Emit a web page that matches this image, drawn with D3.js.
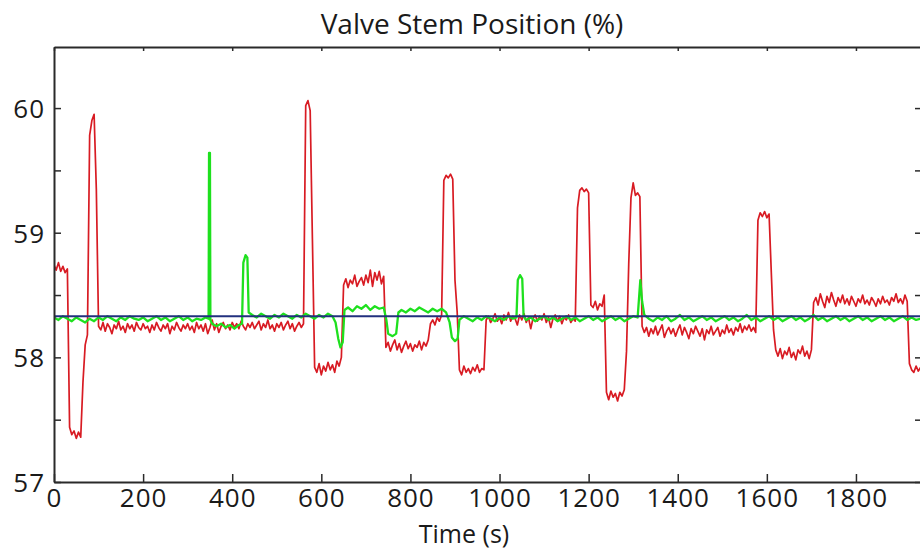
<!DOCTYPE html>
<html>
<head>
<meta charset="utf-8">
<script src="https://cdn.jsdelivr.net/npm/d3@7"></script>
<style>
  body { margin: 0; background: #fff; }
  svg text { font-family: "Open Sans", "Noto Sans", sans-serif; fill: #1a1a1a; }
</style>
</head>
<body>
<div id="chart"></div>
<script>
// red: stem position, sampled every 5 s starting at t = 0
var redStep = 5;
var redV = [
  58.74, 58.70, 58.76, 58.69, 58.73, 58.68, 58.71, 57.44, 57.38, 57.41,
  57.35, 57.40, 57.36, 57.80, 58.10, 58.18, 59.78, 59.90, 59.95, 59.35,
  58.25, 58.22, 58.28, 58.21, 58.27, 58.24, 58.19, 58.26, 58.23, 58.29,
  58.22, 58.25, 58.20, 58.27, 58.23, 58.26, 58.21, 58.28, 58.24, 58.22,
  58.27, 58.23, 58.25, 58.20, 58.26, 58.22, 58.28, 58.24, 58.21, 58.26,
  58.23, 58.27, 58.19, 58.25, 58.22, 58.28, 58.24, 58.21, 58.26, 58.23,
  58.27, 58.22, 58.25, 58.20, 58.28, 58.23, 58.26, 58.21, 58.27, 58.19,
  58.24, 58.30, 58.22, 58.27, 58.20, 58.25, 58.28, 58.23, 58.26, 58.22,
  58.28, 58.24, 58.27, 58.23, 58.29, 58.25, 58.22, 58.27, 58.24, 58.28,
  58.23, 58.26, 58.29, 58.22, 58.27, 58.24, 58.30, 58.23, 58.26, 58.21,
  58.27, 58.24, 58.28, 58.22, 58.26, 58.29, 58.23, 58.27, 58.21, 58.25,
  58.28, 58.24, 58.27, 60.02, 60.06, 59.98, 58.95, 57.92, 57.88, 57.95,
  57.86, 57.93, 57.89, 57.96, 57.90, 57.94, 57.88, 57.97, 57.93, 58.00,
  58.58, 58.63, 58.56, 58.62, 58.59, 58.66, 58.57, 58.61, 58.64, 58.58,
  58.66, 58.60, 58.70, 58.57, 58.68, 58.62, 58.69, 58.59, 58.65, 58.08,
  58.12, 58.05, 58.10, 58.14, 58.06, 58.11, 58.04, 58.09, 58.13, 58.07,
  58.11, 58.05, 58.10, 58.08, 58.13, 58.06, 58.12, 58.09, 58.14, 58.27,
  58.30, 58.26, 58.32, 58.29, 58.34, 59.42, 59.46, 59.44, 59.47, 59.43,
  58.62, 58.36, 57.90, 57.86, 57.93, 57.88, 57.91, 57.87, 57.92, 57.89,
  57.94, 57.88, 57.91, 57.90, 58.30, 58.33, 58.28, 58.31, 58.35, 58.29,
  58.32, 58.27, 58.34, 58.30, 58.36, 58.29, 58.33, 58.31, 58.26, 58.34,
  58.30, 58.35, 58.28, 58.32, 58.23, 58.31, 58.34, 58.29, 58.33, 58.30,
  58.35, 58.28, 58.32, 58.24, 58.31, 58.34, 58.29, 58.33, 58.27, 58.32,
  58.30, 58.34, 58.28, 58.31, 58.29, 59.20, 59.34, 59.36, 59.33, 59.35,
  59.32, 58.42, 58.40, 58.45, 58.38, 58.43, 58.41, 58.50, 57.72, 57.66,
  57.73, 57.68, 57.71, 57.65, 57.72, 57.69, 57.74, 58.05, 58.75, 59.28,
  59.40, 59.30, 59.32, 59.29, 58.25, 58.20, 58.24, 58.17, 58.23, 58.19,
  58.25, 58.18, 58.22, 58.26, 58.16, 58.21, 58.24, 58.19, 58.23, 58.17,
  58.22, 58.26, 58.18, 58.24, 58.20, 58.15, 58.23, 58.19, 58.25, 58.21,
  58.17, 58.23, 58.14, 58.22, 58.19, 58.25, 58.18, 58.21, 58.24, 58.17,
  58.22, 58.19, 58.26, 58.20, 58.23, 58.18, 58.24, 58.21, 58.27, 58.20,
  58.25, 58.22, 58.26, 58.21, 58.24, 58.20, 59.10, 59.16, 59.13, 59.17,
  59.12, 59.15, 58.68, 58.22, 58.06, 58.01, 58.07, 57.99, 58.05, 58.02,
  58.08, 58.00, 58.04, 57.98, 58.06, 58.03, 58.09, 58.01, 58.05, 57.99,
  58.06, 58.44, 58.48, 58.42, 58.51, 58.45, 58.40, 58.49, 58.44, 58.52,
  58.46, 58.41, 58.48, 58.44, 58.50, 58.43, 58.47, 58.42, 58.49, 58.45,
  58.41, 58.47, 58.44, 58.50, 58.43, 58.46, 58.42, 58.48, 58.45, 58.41,
  58.47, 58.43, 58.49, 58.44, 58.46, 58.42, 58.48, 58.45, 58.51, 58.44,
  58.47, 58.43, 58.50, 58.45, 57.95, 57.90, 57.88, 57.93, 57.89, 57.92
];

// green: irregular sample times
var greenT = [
  0, 10, 20, 30, 40, 50, 60, 70, 80, 90,
  100, 110, 120, 130, 140, 150, 160, 170, 180, 190,
  200, 210, 220, 230, 240, 250, 260, 270, 280, 290,
  300, 310, 320, 330, 340, 347, 348, 350, 351, 355,
  365, 375, 385, 395, 405, 415, 422, 425, 430, 434,
  437, 445, 455, 465, 475, 485, 495, 505, 515, 525,
  535, 545, 555, 565, 575, 585, 595, 605, 615, 625,
  632, 638, 643, 648, 652, 660, 670, 680, 690, 700,
  710, 720, 730, 740, 746, 750, 760, 768, 773, 780,
  790, 800, 810, 820, 830, 840, 850, 860, 870, 880,
  888, 893, 900, 906, 910, 920, 930, 940, 950, 960,
  970, 980, 990, 1000, 1010, 1020, 1030, 1038, 1041, 1046,
  1051, 1054, 1060, 1070, 1080, 1090, 1100, 1110, 1120, 1130,
  1140, 1150, 1160, 1170, 1180, 1190, 1200, 1210, 1220, 1230,
  1240, 1250, 1260, 1270, 1280, 1290, 1300, 1310, 1316, 1320,
  1325, 1335, 1345, 1355, 1365, 1375, 1385, 1395, 1405, 1415,
  1425, 1435, 1445, 1455, 1465, 1475, 1485, 1495, 1505, 1515,
  1525, 1535, 1545, 1555, 1565, 1575, 1585, 1595, 1605, 1615,
  1625, 1635, 1645, 1655, 1665, 1675, 1685, 1695, 1705, 1715,
  1725, 1735, 1745, 1755, 1765, 1775, 1785, 1795, 1805, 1815,
  1825, 1835, 1845, 1855, 1865, 1875, 1885, 1895, 1905, 1915,
  1925, 1935, 1945
];
var greenV = [
  58.32, 58.30, 58.33, 58.31, 58.29, 58.32, 58.30, 58.28, 58.31, 58.29,
  58.32, 58.30, 58.33, 58.31, 58.29, 58.32, 58.30, 58.33, 58.31, 58.30,
  58.32, 58.29, 58.31, 58.33, 58.30, 58.32, 58.29, 58.31, 58.33, 58.30,
  58.32, 58.29, 58.31, 58.30, 58.32, 58.31, 59.64, 59.64, 58.30, 58.27,
  58.25, 58.27, 58.24, 58.26, 58.23, 58.26, 58.27, 58.76, 58.82, 58.80,
  58.36, 58.34, 58.32, 58.35, 58.33, 58.31, 58.34, 58.32, 58.35, 58.33,
  58.31, 58.34, 58.32, 58.35, 58.33, 58.31, 58.34, 58.32, 58.35, 58.33,
  58.28, 58.15, 58.08, 58.12, 58.38, 58.40, 58.37, 58.41, 58.39, 58.42,
  58.38, 58.41, 58.39, 58.40, 58.30, 58.19, 58.17, 58.19, 58.36, 58.38,
  58.36, 58.39, 58.37, 58.40, 58.38, 58.36, 58.39, 58.37, 58.39, 58.36,
  58.28, 58.16, 58.13, 58.15, 58.30, 58.33, 58.31, 58.29, 58.32, 58.30,
  58.33, 58.31, 58.29, 58.32, 58.30, 58.33, 58.31, 58.32, 58.62, 58.66,
  58.63, 58.33, 58.30, 58.32, 58.29, 58.31, 58.33, 58.30, 58.32, 58.29,
  58.31, 58.33, 58.30, 58.32, 58.29, 58.31, 58.33, 58.30, 58.32, 58.29,
  58.31, 58.33, 58.30, 58.32, 58.29, 58.31, 58.33, 58.32, 58.62, 58.45,
  58.34, 58.31, 58.29, 58.32, 58.30, 58.33, 58.29, 58.31, 58.34, 58.30,
  58.32, 58.29, 58.31, 58.33, 58.30, 58.32, 58.29, 58.31, 58.33, 58.30,
  58.32, 58.29, 58.31, 58.34, 58.30, 58.32, 58.29, 58.31, 58.33, 58.30,
  58.32, 58.29, 58.31, 58.33, 58.30, 58.32, 58.29, 58.31, 58.34, 58.30,
  58.32, 58.29, 58.31, 58.33, 58.30, 58.32, 58.29, 58.31, 58.33, 58.30,
  58.32, 58.29, 58.31, 58.33, 58.30, 58.32, 58.29, 58.31, 58.33, 58.30,
  58.32, 58.30, 58.31
];

// blue: set point
var blueT = [0, 1946];
var blueV = [58.33, 58.33];

var xTicks = [0, 200, 400, 600, 800, 1000, 1200, 1400, 1600, 1800];
var yTicks = [57, 57.5, 58, 58.5, 59, 59.5, 60];

var chartTitle = "Valve Stem Position (%)";
var xTitle = "Time (s)";

var W = 920, H = 552;
var plotLeft = 54, plotRight = 921, plotTop = 47, plotBottom = 482;

var svg = d3.select("#chart").append("svg")
    .attr("width", W)
    .attr("height", H);

var xScale = d3.scaleLinear()
    .domain([0, 1946])
    .range([plotLeft, plotRight]);

var yScale = d3.scaleLinear()
    .domain([57, 60.49])
    .range([plotBottom, plotTop]);

svg.append("clipPath").attr("id", "plotclip")
    .append("rect")
    .attr("x", plotLeft).attr("y", plotTop)
    .attr("width", plotRight - plotLeft).attr("height", plotBottom - plotTop);

var line = d3.line()
    .x(function(d) { return xScale(d[0]); })
    .y(function(d) { return yScale(d[1]); });

var redData = redV.map(function(v, i) { return [i * redStep, v]; });
var greenData = greenT.map(function(t, i) { return [t, greenV[i]]; });
var blueData = blueT.map(function(t, i) { return [t, blueV[i]]; });

var lines = svg.append("g").attr("clip-path", "url(#plotclip)");

lines.append("path")
    .datum(redData)
    .attr("d", line)
    .attr("fill", "none")
    .attr("stroke", "#d81b23")
    .attr("stroke-width", 1.7)
    .attr("stroke-linejoin", "round");

lines.append("path")
    .datum(greenData)
    .attr("d", line)
    .attr("fill", "none")
    .attr("stroke", "#1ee01e")
    .attr("stroke-width", 2.3)
    .attr("stroke-linejoin", "round");

lines.append("path")
    .datum(blueData)
    .attr("d", line)
    .attr("fill", "none")
    .attr("stroke", "#22307e")
    .attr("stroke-width", 2);

// axes, all ticks pointing inward
var yAxisL = d3.axisLeft(yScale)
    .tickValues(yTicks)
    .tickSizeInner(-7)
    .tickSizeOuter(0)
    .tickPadding(9)
    .tickFormat(function(d) { return Number.isInteger(d) ? d : ""; });

var yAxisR = d3.axisRight(yScale)
    .tickValues(yTicks)
    .tickSizeInner(-6)
    .tickSizeOuter(0)
    .tickFormat("");

var xAxisB = d3.axisBottom(xScale)
    .tickValues(xTicks)
    .tickSizeInner(-8)
    .tickSizeOuter(0)
    .tickPadding(7)
    .tickFormat(d3.format("d"));

var xAxisT = d3.axisTop(xScale)
    .tickValues(xTicks)
    .tickSizeInner(-4)
    .tickSizeOuter(0)
    .tickFormat("");

var gB = svg.append("g").attr("transform", "translate(0," + plotBottom + ")").call(xAxisB);
var gT = svg.append("g").attr("transform", "translate(0," + plotTop + ")").call(xAxisT);
var gL = svg.append("g").attr("transform", "translate(" + plotLeft + ",0)").call(yAxisL);
var gR = svg.append("g").attr("transform", "translate(" + plotRight + ",0)").call(yAxisR);

[gB, gT, gL, gR].forEach(function(g) {
    g.select(".domain").attr("stroke", "#2a2a2a").attr("stroke-width", 2);
    g.selectAll(".tick line").attr("stroke", "#2a2a2a").attr("stroke-width", 1.5);
    g.selectAll(".tick text")
        .style("font-size", "26px")
        .style("letter-spacing", "1px")
        .attr("fill", "#1a1a1a");
});
gL.selectAll(".tick text").attr("dy", "0.36em");

svg.append("text")
    .attr("x", 472)
    .attr("y", 34)
    .attr("text-anchor", "middle")
    .style("font-size", "28px")
    .text(chartTitle);

svg.append("text")
    .attr("x", 464)
    .attr("y", 543)
    .attr("text-anchor", "middle")
    .style("font-size", "25px")
    .text(xTitle);
</script>
</body>
</html>
